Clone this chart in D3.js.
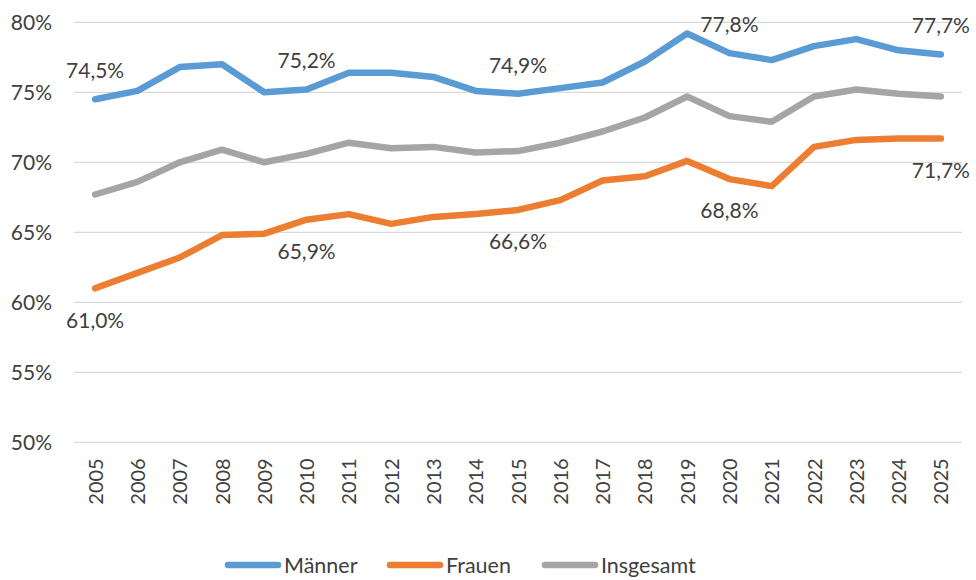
<!DOCTYPE html>
<html><head><meta charset="utf-8">
<script src="https://cdn.jsdelivr.net/npm/d3@7"></script>
<style>html,body{margin:0;padding:0;background:#fff;}svg{display:block;}</style>
</head><body>
<svg id="c" width="976" height="580"></svg>
<script>
const years = ["2005","2006","2007","2008","2009","2010","2011","2012","2013","2014","2015","2016","2017","2018","2019","2020","2021","2022","2023","2024","2025"];
const maenner = [74.5,75.1,76.8,77.0,75.0,75.2,76.4,76.4,76.1,75.1,74.9,75.3,75.7,77.2,79.2,77.8,77.3,78.3,78.8,78.0,77.7];
const frauen = [61.0,62.1,63.2,64.8,64.9,65.9,66.3,65.6,66.1,66.3,66.6,67.3,68.7,69.0,70.1,68.8,68.3,71.1,71.6,71.7,71.7];
const insgesamt = [67.7,68.6,70.0,70.9,70.0,70.6,71.4,71.0,71.1,70.7,70.8,71.4,72.2,73.2,74.7,73.3,72.9,74.7,75.2,74.9,74.7];
const yTicks = [50,55,60,65,70,75,80];
const labelYears = ["2005","2010","2015","2020","2025"];
const seriesNames = ["Männer","Frauen","Insgesamt"];
const seriesColors = ["#5B9BD5","#ED7D31","#A5A5A5"];

const series = [
  {name: seriesNames[0], values: maenner, color: seriesColors[0], labelPos: "above"},
  {name: seriesNames[1], values: frauen, color: seriesColors[1], labelPos: "below"},
  {name: seriesNames[2], values: insgesamt, color: seriesColors[2], labelPos: null}
];

const svg = d3.select("#c");
const font = "Lato, 'Open Sans', sans-serif";
const textColor = "#404040";

const x = d3.scalePoint().domain(years).range([74, 962]).padding(0.5);
const y = d3.scaleLinear().domain([50, 80]).range([442.3, 22.3]);

// gridlines
svg.append("g").selectAll("line").data(yTicks).join("line")
  .attr("x1", 74).attr("x2", 962)
  .attr("y1", d => y(d)).attr("y2", d => y(d))
  .attr("stroke", "#d9d9d9").attr("stroke-width", 1.3);

// y axis
const yAxis = svg.append("g").attr("transform", "translate(60,0)")
  .call(d3.axisLeft(y).tickValues(yTicks).tickSize(0).tickPadding(0).tickFormat(d => d + "%"));
yAxis.select(".domain").remove();
yAxis.selectAll("text").attr("font-family", font).attr("font-size", 21).attr("fill", textColor).attr("x", -8);

// x axis
const xAxis = svg.append("g").attr("transform", "translate(0,442.3)")
  .call(d3.axisBottom(x).tickSize(0).tickPadding(0));
xAxis.select(".domain").remove();
xAxis.selectAll("text")
  .attr("font-family", font).attr("font-size", 20).attr("fill", textColor)
  .attr("transform", "rotate(-90)")
  .attr("text-anchor", "end")
  .attr("x", -16).attr("y", 0).attr("dy", "0.35em");

// lines
const line = d3.line().x((d, i) => x(years[i])).y(d => y(d));
svg.append("g").selectAll("path").data(series).join("path")
  .attr("d", s => line(s.values))
  .attr("fill", "none").attr("stroke", s => s.color)
  .attr("stroke-width", 6.5).attr("stroke-linejoin", "round").attr("stroke-linecap", "round");

// data labels
const fmt = v => v.toFixed(1).replace(".", ",") + "%";
series.filter(s => s.labelPos).forEach(s => {
  svg.append("g").selectAll("text")
    .data(labelYears.map(yr => ({yr, v: s.values[years.indexOf(yr)]})))
    .join("text")
    .attr("x", d => x(d.yr))
    .attr("y", d => y(d.v) + (s.labelPos === "above" ? -28.5 : 32))
    .attr("dy", "0.35em")
    .attr("text-anchor", "middle")
    .attr("font-family", font).attr("font-size", 21).attr("fill", textColor)
    .text(d => fmt(d.v));
});

// legend
const legendX = [225, 387, 542];
const lg = svg.append("g").selectAll("g").data(series).join("g")
  .attr("transform", (d, i) => `translate(${legendX[i]},565)`);
lg.append("line").attr("x1", 3).attr("x2", 53).attr("y1", 0).attr("y2", 0)
  .attr("stroke", d => d.color).attr("stroke-width", 6.5).attr("stroke-linecap", "round");
lg.append("text").attr("x", 59).attr("y", 0).attr("dy", "0.35em")
  .attr("font-family", font).attr("font-size", 21.5).attr("fill", textColor)
  .text(d => d.name);
</script>
</body></html>
